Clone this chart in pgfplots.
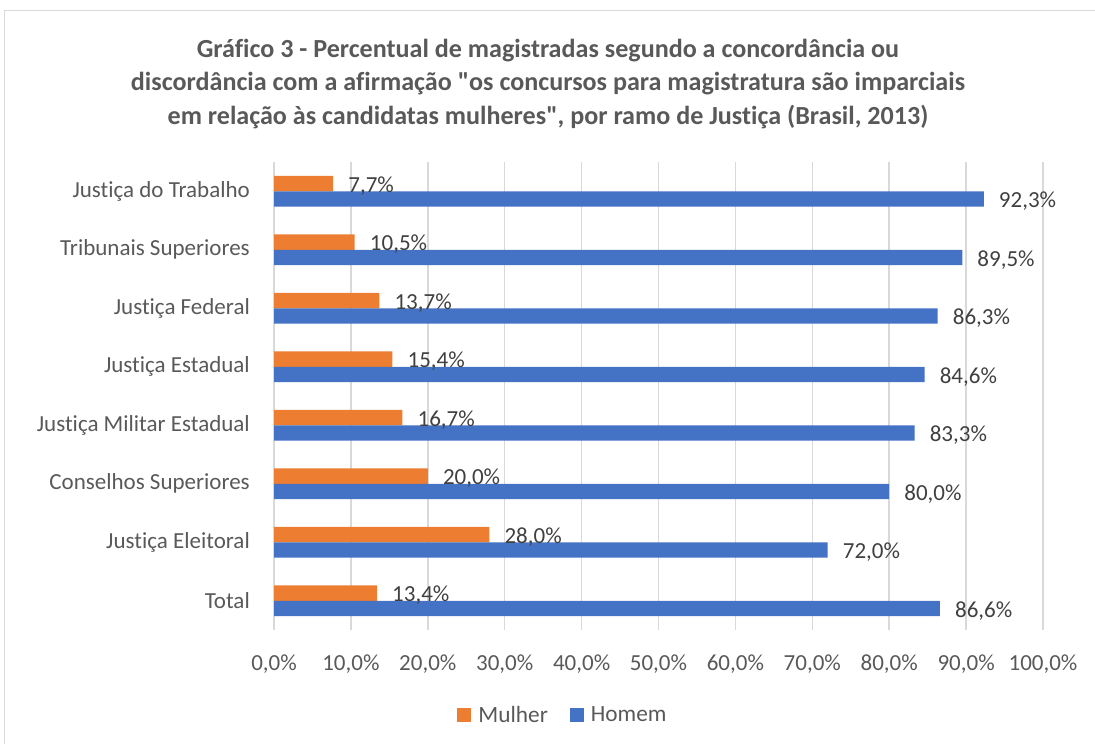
\documentclass[border=0pt]{standalone}
\usepackage{pgfplots}
\pgfplotsset{compat=1.18}
\usepackage{fontspec}
\setmainfont{Carlito}[Ligatures={TeXOff,NoCommon}]
\definecolor{morange}{HTML}{ED7D31}
\definecolor{mblue}{HTML}{4472C4}
\definecolor{tgray}{HTML}{595959}
\definecolor{lgray}{HTML}{404040}
\definecolor{gridc}{HTML}{D9D9D9}
\begin{document}
\begin{tikzpicture}[x=1pt,y=1pt]
\useasboundingbox (0,0) rectangle (1095,-744);
\draw[gridc, line width=1pt] (4,-744) -- (4,-10.5) -- (1095,-10.5);
\node[font=\fontsize{26.1}{33.5}\selectfont\bfseries, text=tgray, align=center] at (548,-84)
 {Gráfico 3 - Percentual de magistradas segundo a concordância ou\\
  discordância com a afirmação "os concursos para magistratura são imparciais\\
  em relação às candidatas mulheres", por ramo de Justiça (Brasil, 2013)};
\begin{axis}[
  at={(274pt,-630pt)}, anchor=south west,
  scale only axis, width=769pt, height=468pt,
  xmin=0, xmax=100, ymin=-0.5, ymax=7.5,
  xbar, bar width=15.3pt,
  axis line style={draw=none},
  major tick length=0pt,
  xtick={0,10,...,100},
  xmajorgrids, grid style={gridc, line width=1.5pt},
  ytick={0,...,7},
  yticklabels={Total, Justiça Eleitoral, Conselhos Superiores, Justiça Militar Estadual, Justiça Estadual, Justiça Federal, Tribunais Superiores, Justiça do Trabalho},
  xticklabel={\pgfmathprintnumber[fixed,fixed zerofill,precision=1,use comma,assume math mode=true]{\tick}\%},
  xticklabel style={font=\fontsize{23}{28}\selectfont, text=tgray, inner sep=0pt, yshift=-25pt},
  yticklabel style={font=\fontsize{23}{28}\selectfont, text=tgray, inner sep=0pt, anchor=east, xshift=-24pt},
  point meta=x,
  nodes near coords={\pgfmathprintnumber[fixed,fixed zerofill,precision=1,use comma,assume math mode=true]{\pgfplotspointmeta}\%},
  every node near coord/.append style={anchor=west, inner sep=0pt, xshift=15pt, yshift=-2.5pt, text=lgray, font=\fontsize{23}{28}\selectfont},
  legend style={at={(0.3758,-0.1816)}, anchor=center, draw=none, fill=none, font=\fontsize{23.3}{28}\selectfont, text=tgray,
    /tikz/every even column/.append style={column sep=20pt}},
  legend columns=2,
  legend image code/.code={\fill[#1] (0pt,-7pt) rectangle (14pt,7pt); \path (19pt,0pt);},
]
\addplot[fill=morange, draw=none, bar shift=7.65pt] coordinates {
 (13.4,0) (28.0,1) (20.0,2) (16.7,3) (15.4,4) (13.7,5) (10.5,6) (7.7,7)};
\addplot[fill=mblue, draw=none, bar shift=-7.65pt] coordinates {
 (86.6,0) (72.0,1) (80.0,2) (83.3,3) (84.6,4) (86.3,5) (89.5,6) (92.3,7)};
\legend{Mulher, Homem}
\end{axis}
\end{tikzpicture}
\end{document}
